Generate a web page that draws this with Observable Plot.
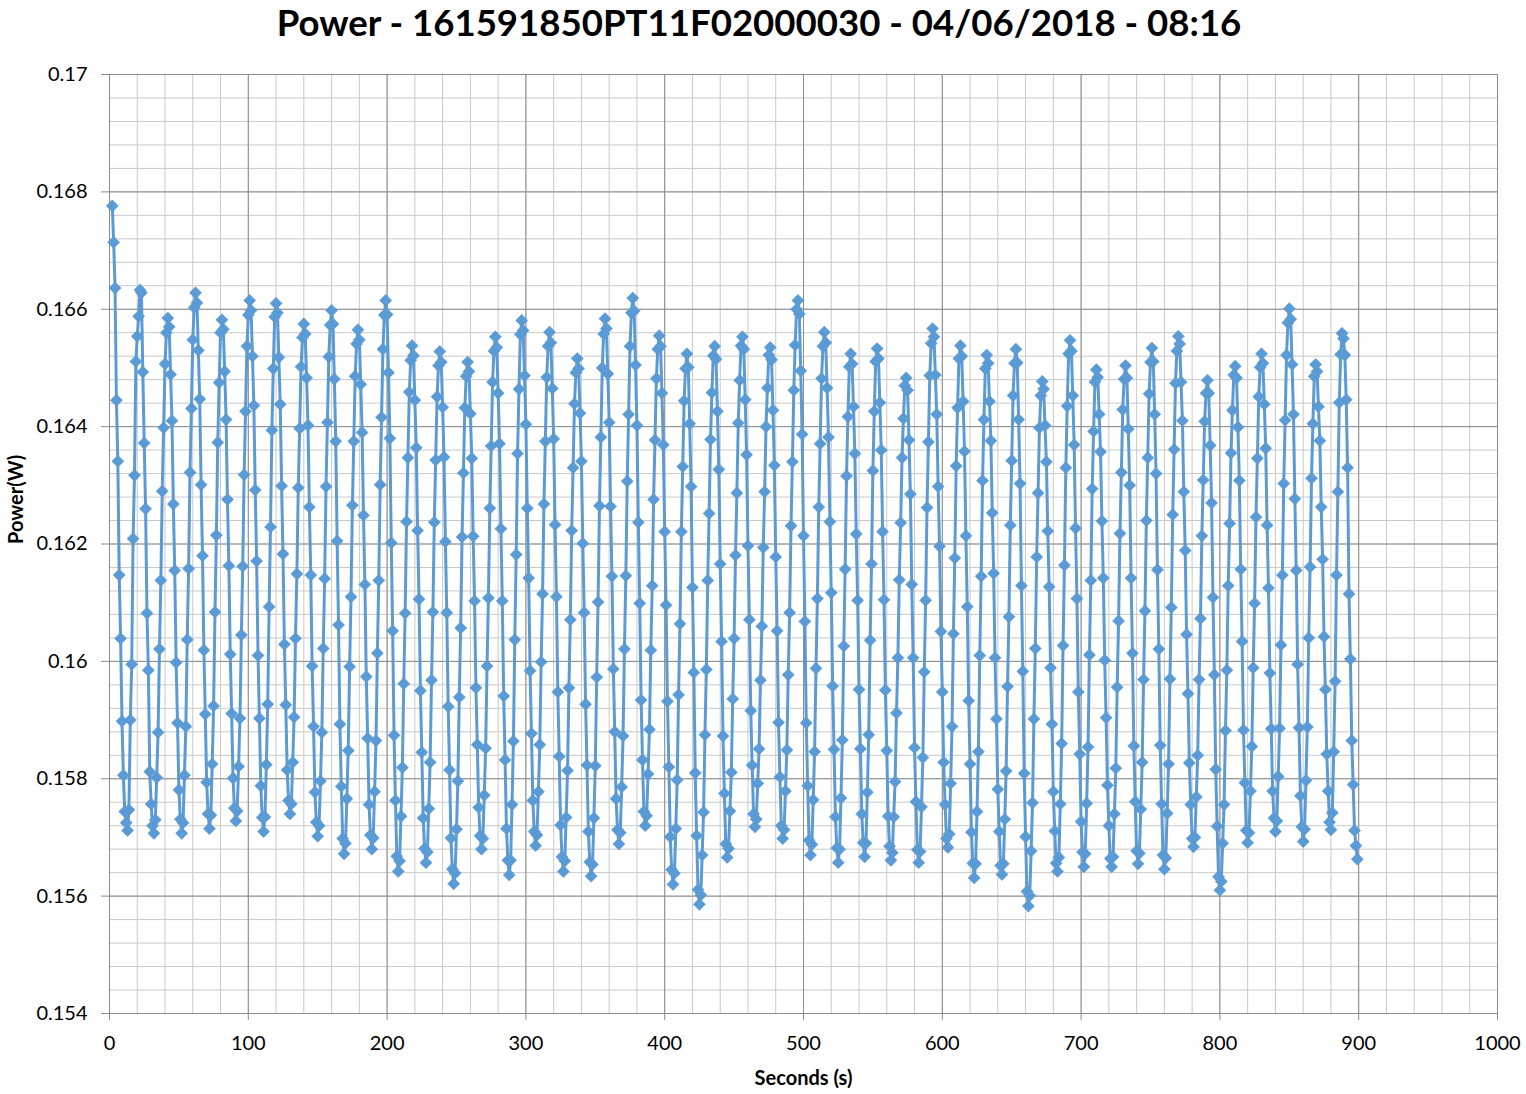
<!DOCTYPE html>
<html>
<head>
<meta charset="utf-8">
<script src="https://cdn.jsdelivr.net/npm/d3@7"></script>
<script src="https://cdn.jsdelivr.net/npm/@observablehq/plot@0.6"></script>
<style>
  body { margin: 0; background: #fff; }
  #title { height: 50px; line-height: 46px; text-align: center; font: bold 36.6px Lato, "Liberation Sans", sans-serif; color: #000; white-space: nowrap; padding-right: 8px; }
</style>
</head>
<body>
<div id="title"></div>
<div id="chart"></div>
<script>
const chartTitle = "Power - 161591850PT11F02000030 - 04/06/2018 - 08:16";
const xLabel = "Seconds (s)";
const yLabel = "Power(W)";

// one reading per second, first reading at 2 s
const firstSecond = 2;
const sampleStepSeconds = 1;

const powerW = [
0.16776,0.16714,0.16636,0.16445,0.16341,0.16147,0.16039,0.15898,0.15806,0.15744,0.15725,0.15712,
0.15747,0.15900,0.15995,0.16209,0.16317,0.16511,0.16554,0.16588,0.16633,
0.16628,0.16493,0.16372,0.16260,0.16082,0.15985,0.15812,0.15757,0.15720,0.15707,
0.15730,0.15802,0.15879,0.16021,0.16138,0.16290,0.16398,0.16507,0.16560,0.16585,
0.16570,0.16489,0.16410,0.16268,0.16155,0.15998,0.15895,0.15781,0.15731,0.15707,
0.15725,0.15806,0.15889,0.16037,0.16158,0.16322,0.16431,0.16548,0.16603,0.16628,
0.16611,0.16530,0.16447,0.16301,0.16180,0.16019,0.15910,0.15794,0.15740,0.15715,
0.15738,0.15825,0.15924,0.16084,0.16215,0.16373,0.16475,0.16560,0.16582,
0.16566,0.16494,0.16412,0.16276,0.16163,0.16012,0.15911,0.15801,0.15750,0.15728,
0.15745,0.15821,0.15903,0.16045,0.16162,0.16318,0.16426,0.16537,0.16590,0.16615,
0.16598,0.16520,0.16436,0.16292,0.16171,0.16010,0.15903,0.15788,0.15734,0.15710,
0.15735,0.15824,0.15927,0.16093,0.16229,0.16394,0.16499,0.16587,0.16610,
0.16594,0.16518,0.16438,0.16299,0.16183,0.16029,0.15926,0.15815,0.15763,0.15740,
0.15757,0.15828,0.15905,0.16039,0.16149,0.16296,0.16397,0.16502,0.16552,0.16575,
0.16558,0.16483,0.16402,0.16263,0.16147,0.15992,0.15889,0.15777,0.15726,0.15702,
0.15720,0.15796,0.15879,0.16022,0.16141,0.16298,0.16407,0.16519,0.16573,0.16598,
0.16575,0.16481,0.16375,0.16205,0.16062,0.15893,0.15787,0.15698,0.15672,
0.15690,0.15766,0.15848,0.15991,0.16110,0.16266,0.16375,0.16486,0.16541,0.16565,
0.16548,0.16472,0.16390,0.16249,0.16131,0.15974,0.15869,0.15756,0.15704,0.15680,
0.15699,0.15778,0.15865,0.16014,0.16138,0.16301,0.16416,0.16532,0.16590,0.16615,
0.16591,0.16492,0.16380,0.16202,0.16052,0.15874,0.15763,0.15668,0.15642,
0.15660,0.15736,0.15819,0.15962,0.16082,0.16238,0.16347,0.16459,0.16513,0.16538,
0.16521,0.16445,0.16364,0.16223,0.16106,0.15950,0.15845,0.15733,0.15681,0.15657,
0.15675,0.15749,0.15828,0.15968,0.16084,0.16237,0.16343,0.16451,0.16504,0.16528,
0.16510,0.16433,0.16348,0.16204,0.16083,0.15923,0.15815,0.15699,0.15646,0.15621,
0.15639,0.15714,0.15796,0.15939,0.16057,0.16212,0.16321,0.16432,0.16486,0.16510,
0.16494,0.16422,0.16346,0.16213,0.16103,0.15955,0.15858,0.15751,0.15703,0.15680,
0.15698,0.15772,0.15852,0.15992,0.16108,0.16261,0.16367,0.16476,0.16529,0.16553,
0.16535,0.16457,0.16371,0.16226,0.16103,0.15941,0.15832,0.15715,0.15661,0.15636,
0.15661,0.15756,0.15864,0.16037,0.16182,0.16354,0.16464,0.16557,0.16581,
0.16564,0.16487,0.16404,0.16261,0.16142,0.15984,0.15877,0.15763,0.15710,0.15686,
0.15704,0.15778,0.15858,0.15999,0.16115,0.16268,0.16375,0.16484,0.16537,0.16561,
0.16543,0.16465,0.16379,0.16233,0.16110,0.15948,0.15838,0.15721,0.15667,0.15642,
0.15660,0.15734,0.15814,0.15955,0.16071,0.16223,0.16330,0.16439,0.16492,0.16516,
0.16499,0.16423,0.16341,0.16201,0.16083,0.15927,0.15823,0.15710,0.15658,0.15634,
0.15654,0.15733,0.15822,0.15973,0.16101,0.16265,0.16382,0.16500,0.16558,0.16584,
0.16567,0.16490,0.16407,0.16264,0.16145,0.15987,0.15880,0.15766,0.15713,0.15689,
0.15708,0.15786,0.15873,0.16021,0.16146,0.16307,0.16421,0.16537,0.16594,0.16619,
0.16597,0.16505,0.16402,0.16237,0.16099,0.15934,0.15832,0.15744,0.15720,
0.15737,0.15808,0.15884,0.16019,0.16129,0.16276,0.16377,0.16482,0.16532,0.16555,
0.16537,0.16457,0.16369,0.16221,0.16096,0.15932,0.15820,0.15701,0.15645,0.15620,
0.15639,0.15715,0.15798,0.15943,0.16064,0.16221,0.16332,0.16444,0.16499,0.16524,
0.16501,0.16405,0.16298,0.16126,0.15981,0.15810,0.15703,0.15611,0.15586,
0.15602,0.15670,0.15743,0.15875,0.15986,0.16138,0.16252,0.16378,0.16458,0.16521,0.16537,
0.16515,0.16426,0.16327,0.16166,0.16034,0.15873,0.15775,0.15689,0.15666,
0.15681,0.15745,0.15811,0.15936,0.16039,0.16181,0.16287,0.16406,0.16479,0.16538,0.16553,
0.16532,0.16446,0.16352,0.16197,0.16071,0.15916,0.15823,0.15740,0.15718,
0.15731,0.15792,0.15851,0.15968,0.16060,0.16194,0.16289,0.16400,0.16466,0.16522,0.16535,
0.16514,0.16428,0.16334,0.16178,0.16052,0.15896,0.15803,0.15720,0.15698,
0.15713,0.15779,0.15849,0.15977,0.16083,0.16231,0.16340,0.16462,0.16539,0.16600,0.16615,
0.16592,0.16495,0.16387,0.16214,0.16068,0.15895,0.15788,0.15695,0.15670,
0.15688,0.15764,0.15846,0.15988,0.16107,0.16263,0.16371,0.16482,0.16537,0.16561,
0.16543,0.16466,0.16382,0.16238,0.16117,0.15958,0.15850,0.15735,0.15682,0.15657,
0.15680,0.15767,0.15866,0.16026,0.16157,0.16316,0.16417,0.16502,0.16524,
0.16507,0.16434,0.16354,0.16217,0.16104,0.15952,0.15851,0.15740,0.15691,0.15667,
0.15690,0.15777,0.15875,0.16036,0.16166,0.16325,0.16426,0.16511,0.16533,
0.16516,0.16441,0.16360,0.16221,0.16105,0.15951,0.15848,0.15736,0.15685,0.15661,
0.15674,0.15735,0.15795,0.15912,0.16006,0.16139,0.16236,0.16347,0.16414,0.16470,0.16483,
0.16462,0.16377,0.16285,0.16131,0.16006,0.15853,0.15761,0.15679,0.15657,
0.15676,0.15752,0.15836,0.15982,0.16104,0.16262,0.16374,0.16487,0.16542,0.16567,
0.16553,0.16488,0.16421,0.16298,0.16196,0.16051,0.15948,0.15828,0.15756,0.15698,0.15683,
0.15706,0.15792,0.15889,0.16047,0.16176,0.16333,0.16432,0.16516,0.16538,
0.16520,0.16443,0.16358,0.16214,0.16093,0.15933,0.15825,0.15709,0.15656,0.15631,
0.15655,0.15744,0.15846,0.16010,0.16145,0.16308,0.16412,0.16499,0.16522,
0.16508,0.16443,0.16376,0.16253,0.16150,0.16006,0.15902,0.15782,0.15710,0.15652,0.15637,
0.15655,0.15731,0.15813,0.15957,0.16076,0.16232,0.16342,0.16453,0.16508,0.16532,
0.16509,0.16412,0.16303,0.16129,0.15983,0.15809,0.15701,0.15608,0.15583,
0.15601,0.15677,0.15759,0.15902,0.16022,0.16178,0.16287,0.16398,0.16453,0.16477,
0.16464,0.16402,0.16340,0.16222,0.16127,0.15989,0.15893,0.15778,0.15711,0.15656,0.15642,
0.15666,0.15757,0.15860,0.16027,0.16164,0.16330,0.16435,0.16524,0.16547,
0.16529,0.16453,0.16369,0.16227,0.16107,0.15948,0.15842,0.15727,0.15675,0.15650,
0.15672,0.15758,0.15854,0.16011,0.16138,0.16294,0.16392,0.16476,0.16497,
0.16484,0.16421,0.16357,0.16239,0.16142,0.16002,0.15904,0.15789,0.15720,0.15664,0.15650,
0.15667,0.15740,0.15818,0.15956,0.16069,0.16218,0.16322,0.16429,0.16481,0.16504,
0.16483,0.16396,0.16300,0.16142,0.16014,0.15856,0.15761,0.15677,0.15655,
0.15673,0.15748,0.15828,0.15969,0.16086,0.16240,0.16347,0.16456,0.16510,0.16534,
0.16511,0.16421,0.16320,0.16156,0.16021,0.15857,0.15757,0.15670,0.15646,
0.15665,0.15741,0.15825,0.15970,0.16092,0.16250,0.16361,0.16474,0.16529,0.16554,
0.16541,0.16476,0.16410,0.16289,0.16189,0.16046,0.15945,0.15827,0.15756,0.15698,0.15684,
0.15700,0.15769,0.15840,0.15969,0.16073,0.16214,0.16309,0.16409,0.16457,0.16479,
0.16457,0.16368,0.16270,0.16109,0.15977,0.15816,0.15719,0.15633,0.15610,
0.15625,0.15690,0.15756,0.15882,0.15985,0.16129,0.16235,0.16355,0.16428,0.16488,0.16503,
0.16483,0.16399,0.16308,0.16157,0.16034,0.15883,0.15793,0.15712,0.15691,
0.15708,0.15779,0.15855,0.15989,0.16099,0.16246,0.16346,0.16451,0.16501,0.16524,
0.16508,0.16438,0.16363,0.16232,0.16125,0.15980,0.15885,0.15779,0.15733,0.15710,
0.15728,0.15804,0.15886,0.16028,0.16147,0.16303,0.16411,0.16522,0.16577,0.16601,
0.16583,0.16506,0.16421,0.16277,0.16155,0.15995,0.15887,0.15771,0.15718,0.15693,
0.15714,0.15797,0.15888,0.16040,0.16161,0.16312,0.16405,0.16486,0.16506,
0.16494,0.16434,0.16376,0.16263,0.16174,0.16042,0.15952,0.15842,0.15779,0.15726,0.15713,
0.15742,0.15846,0.15966,0.16147,0.16289,0.16441,0.16523,0.16559,
0.16550,0.16522,0.16446,0.16330,0.16115,0.16004,0.15865,0.15790,0.15712,0.15686,0.15663
];

const xTicks = [0, 100, 200, 300, 400, 500, 600, 700, 800, 900, 1000];
const yTicks = [0.154, 0.156, 0.158, 0.16, 0.162, 0.164, 0.166, 0.168, 0.17];
const xMinorStep = 20;
const yMinorStep = 0.0004;

document.getElementById("title").textContent = chartTitle;

const data = powerW.map((p, i) => ({ second: firstSecond + i * sampleStepSeconds, power: p }));
const xMinor = d3.range(xTicks[0], xTicks[xTicks.length - 1] + 1e-9, xMinorStep);
const yMinor = d3.range(0, Math.round((yTicks[yTicks.length - 1] - yTicks[0]) / yMinorStep) + 1)
  .map(k => yTicks[0] + k * yMinorStep);

const font = 'Lato, "Liberation Sans", sans-serif';
const majorGrid = "#8c8c8c";
const minorGrid = "#c9c9c9";
const seriesColor = "#5B9BD5";

const chart = Plot.plot({
  width: 1526,
  height: 1044,
  marginTop: 24,
  marginLeft: 109,
  marginRight: 29,
  marginBottom: 81,
  style: { fontFamily: font, fontSize: "20px", color: "#000", background: "#fff", overflow: "visible" },
  x: { domain: [xTicks[0], xTicks[xTicks.length - 1]], label: null },
  y: { domain: [yTicks[0], yTicks[yTicks.length - 1]], label: null },
  marks: [
    Plot.ruleX(xMinor, { stroke: minorGrid, strokeWidth: 1 }),
    Plot.ruleY(yMinor, { stroke: minorGrid, strokeWidth: 1 }),
    Plot.ruleX(xTicks, { stroke: majorGrid, strokeWidth: 1 }),
    Plot.ruleY(yTicks, { stroke: majorGrid, strokeWidth: 1 }),
    Plot.axisX({ ticks: xTicks, tickSize: 7, tickPadding: 15, tickFormat: d => String(d), stroke: majorGrid, fill: "#000", fontSize: 20 }),
    Plot.axisY({ ticks: yTicks, tickSize: 8, tickPadding: 14, tickFormat: d => String(+d.toFixed(3)), stroke: majorGrid, fill: "#000", fontSize: 20 }),
    Plot.line(data, { x: "second", y: "power", stroke: seriesColor, strokeWidth: 3 }),
    Plot.dot(data, { x: "second", y: "power", symbol: "diamond2", r: 5.5, fill: seriesColor, stroke: seriesColor, strokeWidth: 0.5 }),
    Plot.text([xLabel], { frameAnchor: "bottom", dy: 71, text: d => d, fontWeight: "bold", fontSize: 20 }),
    Plot.text([yLabel], { frameAnchor: "left", dx: -93, rotate: -90, text: d => d, fontWeight: "bold", fontSize: 20 })
  ]
});
document.getElementById("chart").appendChild(chart);
</script>
</body>
</html>
